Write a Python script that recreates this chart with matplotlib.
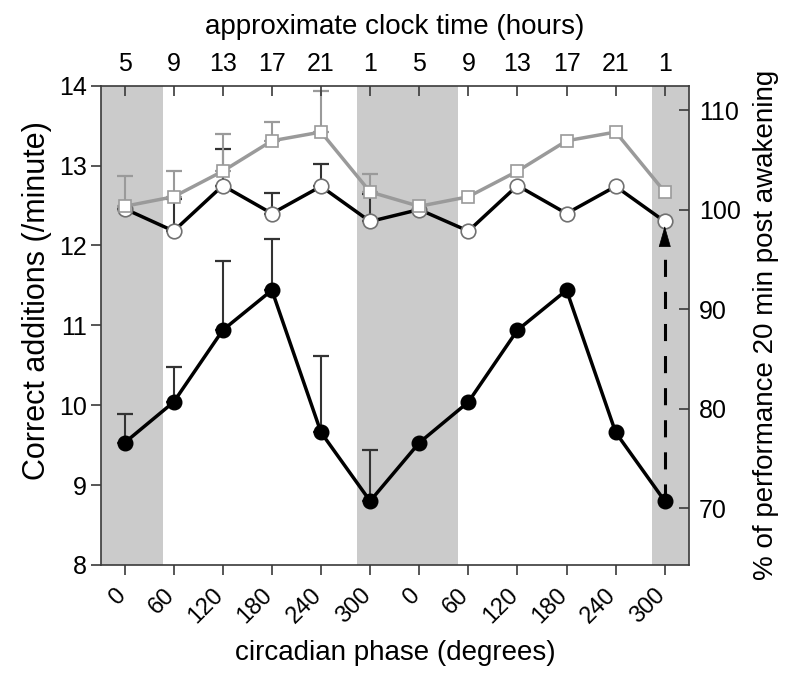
import matplotlib
matplotlib.use('Agg')
import matplotlib.pyplot as plt
import matplotlib.transforms as mtransforms
import numpy as np

plt.rcParams['font.family'] = ['Liberation Sans', 'DejaVu Sans']

# ---------------- data ----------------
phase_labels = ['0', '60', '120', '180', '240', '300', '0', '60', '120', '180', '240', '300']
clock_labels = ['5', '9', '13', '17', '21', '1', '5', '9', '13', '17', '21', '1']

# filled circles: correct additions (/minute)
filled_vals = [9.53, 10.04, 10.94, 11.44, 9.66, 8.80, 9.53, 10.04, 10.94, 11.44, 9.66, 8.80]
filled_err_top = [9.89, 10.48, 11.80, 12.08, 10.62, 9.44]

# open circles
open_vals = [12.46, 12.18, 12.75, 12.40, 12.74, 12.30, 12.45, 12.18, 12.75, 12.40, 12.74, 12.30]
open_err_top = [12.46, 12.58, 13.21, 12.66, 13.02, 12.65]

# open squares (grey)
square_vals = [12.49, 12.61, 12.93, 13.31, 13.42, 12.67, 12.49, 12.61, 12.93, 13.31, 13.42, 12.67]
square_err_top = [12.87, 12.93, 13.39, 13.55, 13.93, 12.90]

# value on the left axis corresponding to 100 % on the right axis
baseline_100 = 12.445

# night (shaded) periods, in phase-index units
night_start = [-1.26, 4.74, 10.74]
night_end = [0.78, 6.78, 12.78]

# ---------------- figure ----------------
fig = plt.figure(figsize=(8.0, 6.85), dpi=100)
ax = fig.add_axes([0.12625, 0.1752, 0.7354, 0.6997])

x = np.arange(len(phase_labels))
n_err = len(filled_err_top)
xe = x[:n_err]

spine_col = '#3a3a3a'
grey = '#9a9a9a'
tick_fs = 18
label_fs = 20

for s, e in zip(night_start, night_end):
    ax.axvspan(s, e, color='#cbcbcb', lw=0, zorder=0)

# filled series
ax.errorbar(xe, filled_vals[:n_err],
            yerr=[np.zeros(n_err), np.array(filled_err_top) - np.array(filled_vals[:n_err])],
            fmt='none', ecolor='#333333', elinewidth=1.5, capsize=6, capthick=1.6, zorder=2)
ax.plot(x, filled_vals, color='black', lw=2.5, marker='o', ms=10.5,
        mfc='black', mec='black', zorder=4)

# open circle series
ax.errorbar(xe, open_vals[:n_err],
            yerr=[np.zeros(n_err), np.array(open_err_top) - np.array(open_vals[:n_err])],
            fmt='none', ecolor='#333333', elinewidth=1.5, capsize=6, capthick=1.6, zorder=2)
ax.plot(x, open_vals, color='black', lw=2.5, marker='o', ms=10.5,
        mfc='white', mec='#707070', mew=1.2, zorder=4)

# square series
ax.errorbar(xe, square_vals[:n_err],
            yerr=[np.zeros(n_err), np.array(square_err_top) - np.array(square_vals[:n_err])],
            fmt='none', ecolor=grey, elinewidth=1.5, capsize=6, capthick=1.6, zorder=2.5)
ax.plot(x, square_vals, color=grey, lw=2.5, marker='s', ms=9,
        mfc='white', mec=grey, mew=1.2, zorder=5)

# dashed arrow from last filled point to last open circle
last = len(x) - 1
tip = open_vals[last] - 0.055
head_len = 0.24
ax.plot([x[last], x[last]], [filled_vals[last], tip - head_len + 0.02],
        color='black', lw=2.2, dashes=(5.6, 4.9), zorder=3)
ax.annotate('', xy=(x[last], tip), xytext=(x[last], tip - head_len),
            arrowprops=dict(arrowstyle='-|>,head_length=14,head_width=4',
                            mutation_scale=1, color='black', lw=0.5,
                            shrinkA=0, shrinkB=0), zorder=6)

ax.set_xlim(-0.48, 11.5)
ax.set_ylim(8, 14)

# bottom axis
ax.set_xticks(x)
ax.set_xticklabels(phase_labels, rotation=45, ha='right')
ax.set_yticks(np.arange(8, 15, 1))
ax.tick_params(axis='x', direction='out', length=7, width=1.2, color=spine_col,
               labelsize=17, pad=7)
ax.tick_params(axis='y', direction='out', length=7, width=1.2, color=spine_col,
               labelsize=tick_fs, pad=3)
shift = mtransforms.ScaledTranslation(5 / 100, 0, fig.dpi_scale_trans)
for lbl in ax.get_xticklabels():
    lbl.set_transform(lbl.get_transform() + shift)
ax.set_xlabel('circadian phase (degrees)', fontsize=label_fs, labelpad=9)
ax.set_ylabel('Correct additions (/minute)', fontsize=22)
ax.yaxis.set_label_coords(-0.083, 0.551)

for sp in ax.spines.values():
    sp.set_color(spine_col)
    sp.set_linewidth(1.2)

# right axis
axr = ax.twinx()
axr.set_ylim(ax.get_ylim()[0] * 100 / baseline_100, ax.get_ylim()[1] * 100 / baseline_100)
axr.set_yticks([70, 80, 90, 100, 110])
axr.tick_params(axis='y', direction='in', length=7, width=1.2, color=spine_col,
                labelsize=tick_fs, pad=7)
axr.set_ylabel('% of performance 20 min post awakening', fontsize=label_fs, labelpad=9)
for sp in axr.spines.values():
    sp.set_visible(False)

# top axis
axt = ax.twiny()
axt.set_xlim(ax.get_xlim())
axt.set_xticks(x)
axt.set_xticklabels(clock_labels)
axt.tick_params(axis='x', direction='in', length=7, width=1.2, color=spine_col,
                labelsize=tick_fs, pad=7)
axt.set_xlabel('approximate clock time (hours)', fontsize=label_fs, labelpad=13)
for sp in axt.spines.values():
    sp.set_visible(False)

fig.savefig('out.png', dpi=100)
